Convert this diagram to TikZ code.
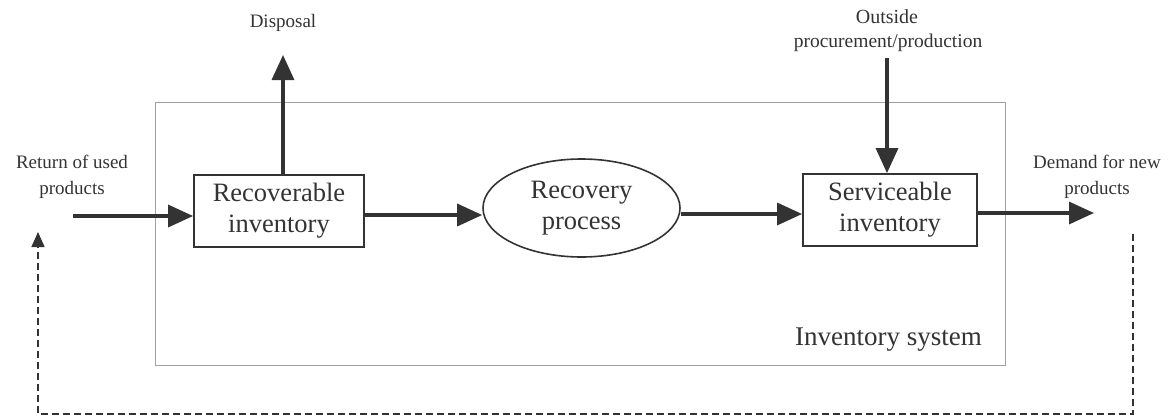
\documentclass[tikz,border=0pt]{standalone}
\usepackage{fontspec}
\setmainfont{Liberation Serif}
\usetikzlibrary{arrows.meta,shapes.geometric}
\definecolor{ink}{HTML}{333333}
\definecolor{frame}{HTML}{A0A0A0}
\begin{document}
\begin{tikzpicture}[x=1pt,y=-1pt,
  every node/.style={text=ink},
  stockbox/.style={draw=ink,line width=1.8pt,minimum width=170pt,minimum height=72pt,
    align=center,font=\fontsize{26.5}{31}\selectfont,inner sep=0pt},
  procnode/.style={draw=ink,line width=1.6pt,ellipse,minimum width=197pt,minimum height=98pt,
    align=center,font=\fontsize{26.5}{31}\selectfont,inner sep=0pt},
  label/.style={align=center,font=\fontsize{19}{26}\selectfont,inner sep=0pt},
  flow/.style={draw=ink,line width=3.4pt,-{Triangle[length=25pt,width=22pt]}},
  feedback/.style={draw=ink,line width=1.4pt,dash pattern=on 7pt off 4pt,
    -{Triangle[length=15pt,width=13pt]}},
  systemframe/.style={draw=frame,line width=1pt}]
\useasboundingbox (0,0) rectangle (1173,418);

% inventory system boundary
\draw[systemframe] (155,102) rectangle (1005,365);
\node[font=\fontsize{27}{32}\selectfont,anchor=base east,inner sep=0pt] (sys) at (982,345) {Inventory system};

% stocks and the recovery process
\node[stockbox] (rec) at (279,211) {Recoverable\\inventory};
\node[procnode] (proc) at (581.5,208) {Recovery\\process};
\node[stockbox,minimum width=174pt] (serv) at (890,210) {Serviceable\\inventory};

% outside labels
\node[label] (ret) at (72,177) {Return of used\\products};
\node[label] (dem) at (1097,177) {Demand for new\\products};
\node[label] (disp) at (283,23) {Disposal};
\node[label,font=\fontsize{20}{26}\selectfont] (outs) at (887,17) {Outside};
\node[label,font=\fontsize{19.5}{24}\selectfont] (proc2) at (888,43) {procurement/production};

% free ends of the external flows
\coordinate (retstart) at (73,216);
\coordinate (demend) at (1094,213);
\coordinate (dispend) at (283,55);
\coordinate (outstart) at (887,58);
\coordinate (fbtop) at (1133,234);
\coordinate (fbright) at (1133,414);
\coordinate (fbleft) at (38,414);
\coordinate (fbend) at (38,232);

% material flows
\draw[flow] (retstart) -- (rec.west |- retstart);
\draw[flow] (rec.east |- 0,215) -- (proc.west |- 0,215);
\draw[flow] (proc.east |- 0,214) -- (serv.west |- 0,214);
\draw[flow] (serv.east |- demend) -- (demend);
\draw[flow] (rec.north -| dispend) -- (dispend);
\draw[flow] (outstart) -- (outstart |- serv.north);

% demand feeding back as returns
\draw[feedback] (fbtop) -- (fbright) -- (fbleft) -- (fbend);
\end{tikzpicture}
\end{document}
